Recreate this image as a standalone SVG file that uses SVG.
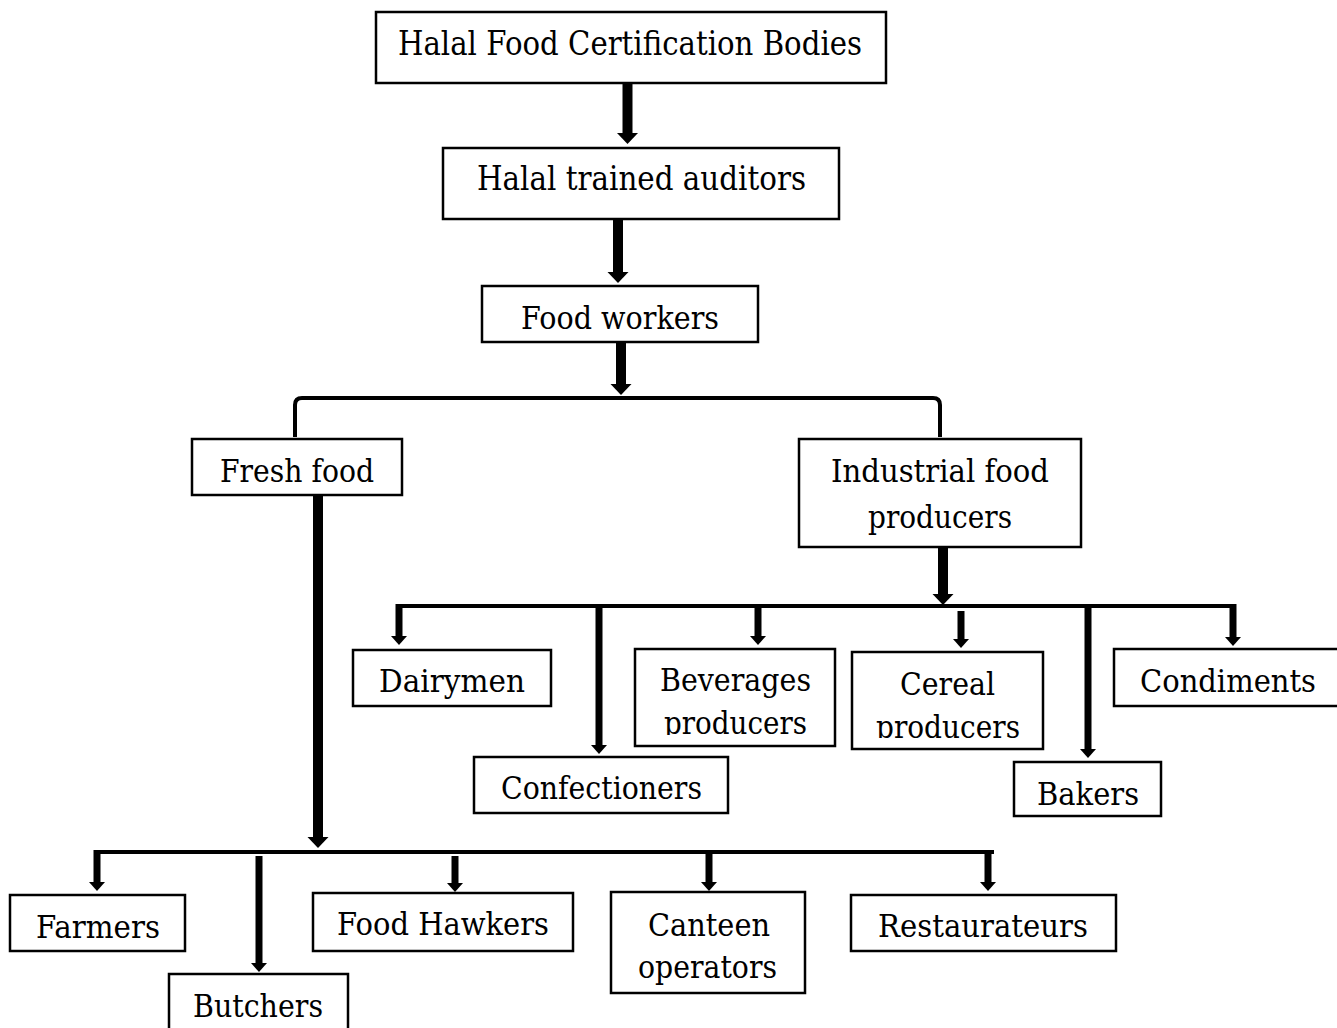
<svg xmlns="http://www.w3.org/2000/svg" width="1337" height="1028" viewBox="0 0 1337 1028">
  <style>
    .box { fill: #ffffff; stroke: #000000; stroke-width: 2.5; }
    .lbl { font-family: "DejaVu Serif", "Liberation Serif", serif; font-size: 31px; fill: #000000; text-anchor: middle; }
    .big { font-size: 34px; }
    .mid { font-size: 32px; }
    .bus { fill: none; stroke: #000000; stroke-width: 4; }
    .shaftL { stroke: #000000; stroke-width: 10; marker-end: url(#headL); }
    .shaftS { stroke: #000000; stroke-width: 7; marker-end: url(#headS); }
  </style>
  <defs>
    <marker id="headL" markerUnits="userSpaceOnUse" viewBox="0 0 12 22" markerWidth="12" markerHeight="22" refX="0" refY="11" orient="auto">
      <path d="M0,0.5 L11,11 L0,21.5 Z" fill="#000000"/>
    </marker>
    <marker id="headS" markerUnits="userSpaceOnUse" viewBox="0 0 10 16" markerWidth="10" markerHeight="16" refX="0" refY="8" orient="auto">
      <path d="M0,0 L9,8 L0,16 Z" fill="#000000"/>
    </marker>
    <clipPath id="clipBev"><rect x="636" y="650" width="198" height="85"/></clipPath>
    <clipPath id="clipCer"><rect x="853" y="653" width="189" height="85"/></clipPath>
  </defs>
  <rect width="1337" height="1028" fill="#ffffff"/>

  <!-- connectors -->
  <g id="connectors">
    <line class="shaftL" x1="627.5" y1="83" x2="627.5" y2="133"/>
    <line class="shaftL" x1="618" y1="219" x2="618" y2="272"/>
    <line class="shaftL" x1="621" y1="342" x2="621" y2="384"/>
    <path class="bus" d="M295,437 L295,405 Q295,398 302,398 L933,398 Q940,398 940,405 L940,437"/>

    <!-- fresh food branch -->
    <line class="shaftL" x1="318" y1="495" x2="318" y2="837"/>
    <line class="bus" x1="94" y1="852" x2="994" y2="852"/>
    <line class="shaftS" x1="97" y1="850" x2="97" y2="882"/>
    <line class="shaftS" x1="259" y1="856" x2="259" y2="963"/>
    <line class="shaftS" x1="455" y1="856" x2="455" y2="883"/>
    <line class="shaftS" x1="709" y1="850" x2="709" y2="882"/>
    <line class="shaftS" x1="988" y1="850" x2="988" y2="882"/>

    <!-- industrial branch -->
    <line class="shaftL" x1="943" y1="547" x2="943" y2="594"/>
    <line class="bus" x1="396" y1="606" x2="1236" y2="606"/>
    <line class="shaftS" x1="399" y1="604" x2="399" y2="636"/>
    <line class="shaftS" x1="599" y1="604" x2="599" y2="745"/>
    <line class="shaftS" x1="758" y1="604" x2="758" y2="636"/>
    <line class="shaftS" x1="961" y1="611" x2="961" y2="639"/>
    <line class="shaftS" x1="1088" y1="604" x2="1088" y2="749"/>
    <line class="shaftS" x1="1233" y1="604" x2="1233" y2="637"/>
  </g>

  <!-- nodes -->
  <g id="n-bodies">
    <rect class="box" x="376" y="12" width="510" height="71"/>
    <text class="lbl big" x="630" y="55" textLength="464" lengthAdjust="spacingAndGlyphs">Halal Food Certification Bodies</text>
  </g>
  <g id="n-auditors">
    <rect class="box" x="443" y="148" width="396" height="71"/>
    <text class="lbl big" x="641.5" y="190" textLength="329" lengthAdjust="spacingAndGlyphs">Halal trained auditors</text>
  </g>
  <g id="n-workers">
    <rect class="box" x="482" y="286" width="276" height="56"/>
    <text class="lbl mid" x="620" y="329" textLength="198" lengthAdjust="spacingAndGlyphs">Food workers</text>
  </g>
  <g id="n-fresh">
    <rect class="box" x="192" y="439" width="210" height="56"/>
    <text class="lbl mid" x="297" y="482" textLength="154" lengthAdjust="spacingAndGlyphs">Fresh food</text>
  </g>
  <g id="n-industrial">
    <rect class="box" x="799" y="439" width="282" height="108"/>
    <text class="lbl mid" x="940" y="482" textLength="218" lengthAdjust="spacingAndGlyphs">Industrial food</text>
    <text class="lbl mid" x="940" y="528" textLength="144" lengthAdjust="spacingAndGlyphs">producers</text>
  </g>
  <g id="n-dairymen">
    <rect class="box" x="353" y="650" width="198" height="56"/>
    <text class="lbl" x="452" y="692" textLength="146" lengthAdjust="spacingAndGlyphs">Dairymen</text>
  </g>
  <g id="n-confectioners">
    <rect class="box" x="474" y="757" width="254" height="56"/>
    <text class="lbl" x="601.5" y="799" textLength="201" lengthAdjust="spacingAndGlyphs">Confectioners</text>
  </g>
  <g id="n-beverages">
    <rect class="box" x="635" y="649" width="200" height="97"/>
    <g clip-path="url(#clipBev)">
      <text class="lbl" x="735.5" y="691" textLength="151" lengthAdjust="spacingAndGlyphs">Beverages</text>
      <text class="lbl" x="735.5" y="734" textLength="143" lengthAdjust="spacingAndGlyphs">producers</text>
    </g>
  </g>
  <g id="n-cereal">
    <rect class="box" x="852" y="652" width="191" height="97"/>
    <g clip-path="url(#clipCer)">
      <text class="lbl" x="947.5" y="695" textLength="95" lengthAdjust="spacingAndGlyphs">Cereal</text>
      <text class="lbl" x="948" y="738" textLength="144" lengthAdjust="spacingAndGlyphs">producers</text>
    </g>
  </g>
  <g id="n-condiments">
    <rect class="box" x="1114" y="649" width="240" height="57"/>
    <text class="lbl" x="1228" y="692" textLength="176" lengthAdjust="spacingAndGlyphs">Condiments</text>
  </g>
  <g id="n-bakers">
    <rect class="box" x="1014" y="762" width="147" height="54"/>
    <text class="lbl" x="1088" y="805" textLength="102" lengthAdjust="spacingAndGlyphs">Bakers</text>
  </g>
  <g id="n-farmers">
    <rect class="box" x="10" y="895" width="175" height="56"/>
    <text class="lbl" x="98" y="938" textLength="124" lengthAdjust="spacingAndGlyphs">Farmers</text>
  </g>
  <g id="n-butchers">
    <rect class="box" x="169" y="974" width="179" height="70"/>
    <text class="lbl" x="258" y="1017" textLength="130" lengthAdjust="spacingAndGlyphs">Butchers</text>
  </g>
  <g id="n-hawkers">
    <rect class="box" x="313" y="893" width="260" height="58"/>
    <text class="lbl" x="443" y="935" textLength="212" lengthAdjust="spacingAndGlyphs">Food Hawkers</text>
  </g>
  <g id="n-canteen">
    <rect class="box" x="611" y="892" width="194" height="101"/>
    <text class="lbl" x="709" y="936" textLength="122" lengthAdjust="spacingAndGlyphs">Canteen</text>
    <text class="lbl" x="707.5" y="978" textLength="139" lengthAdjust="spacingAndGlyphs">operators</text>
  </g>
  <g id="n-restaurateurs">
    <rect class="box" x="851" y="895" width="265" height="56"/>
    <text class="lbl" x="983" y="937" textLength="210" lengthAdjust="spacingAndGlyphs">Restaurateurs</text>
  </g>
</svg>
